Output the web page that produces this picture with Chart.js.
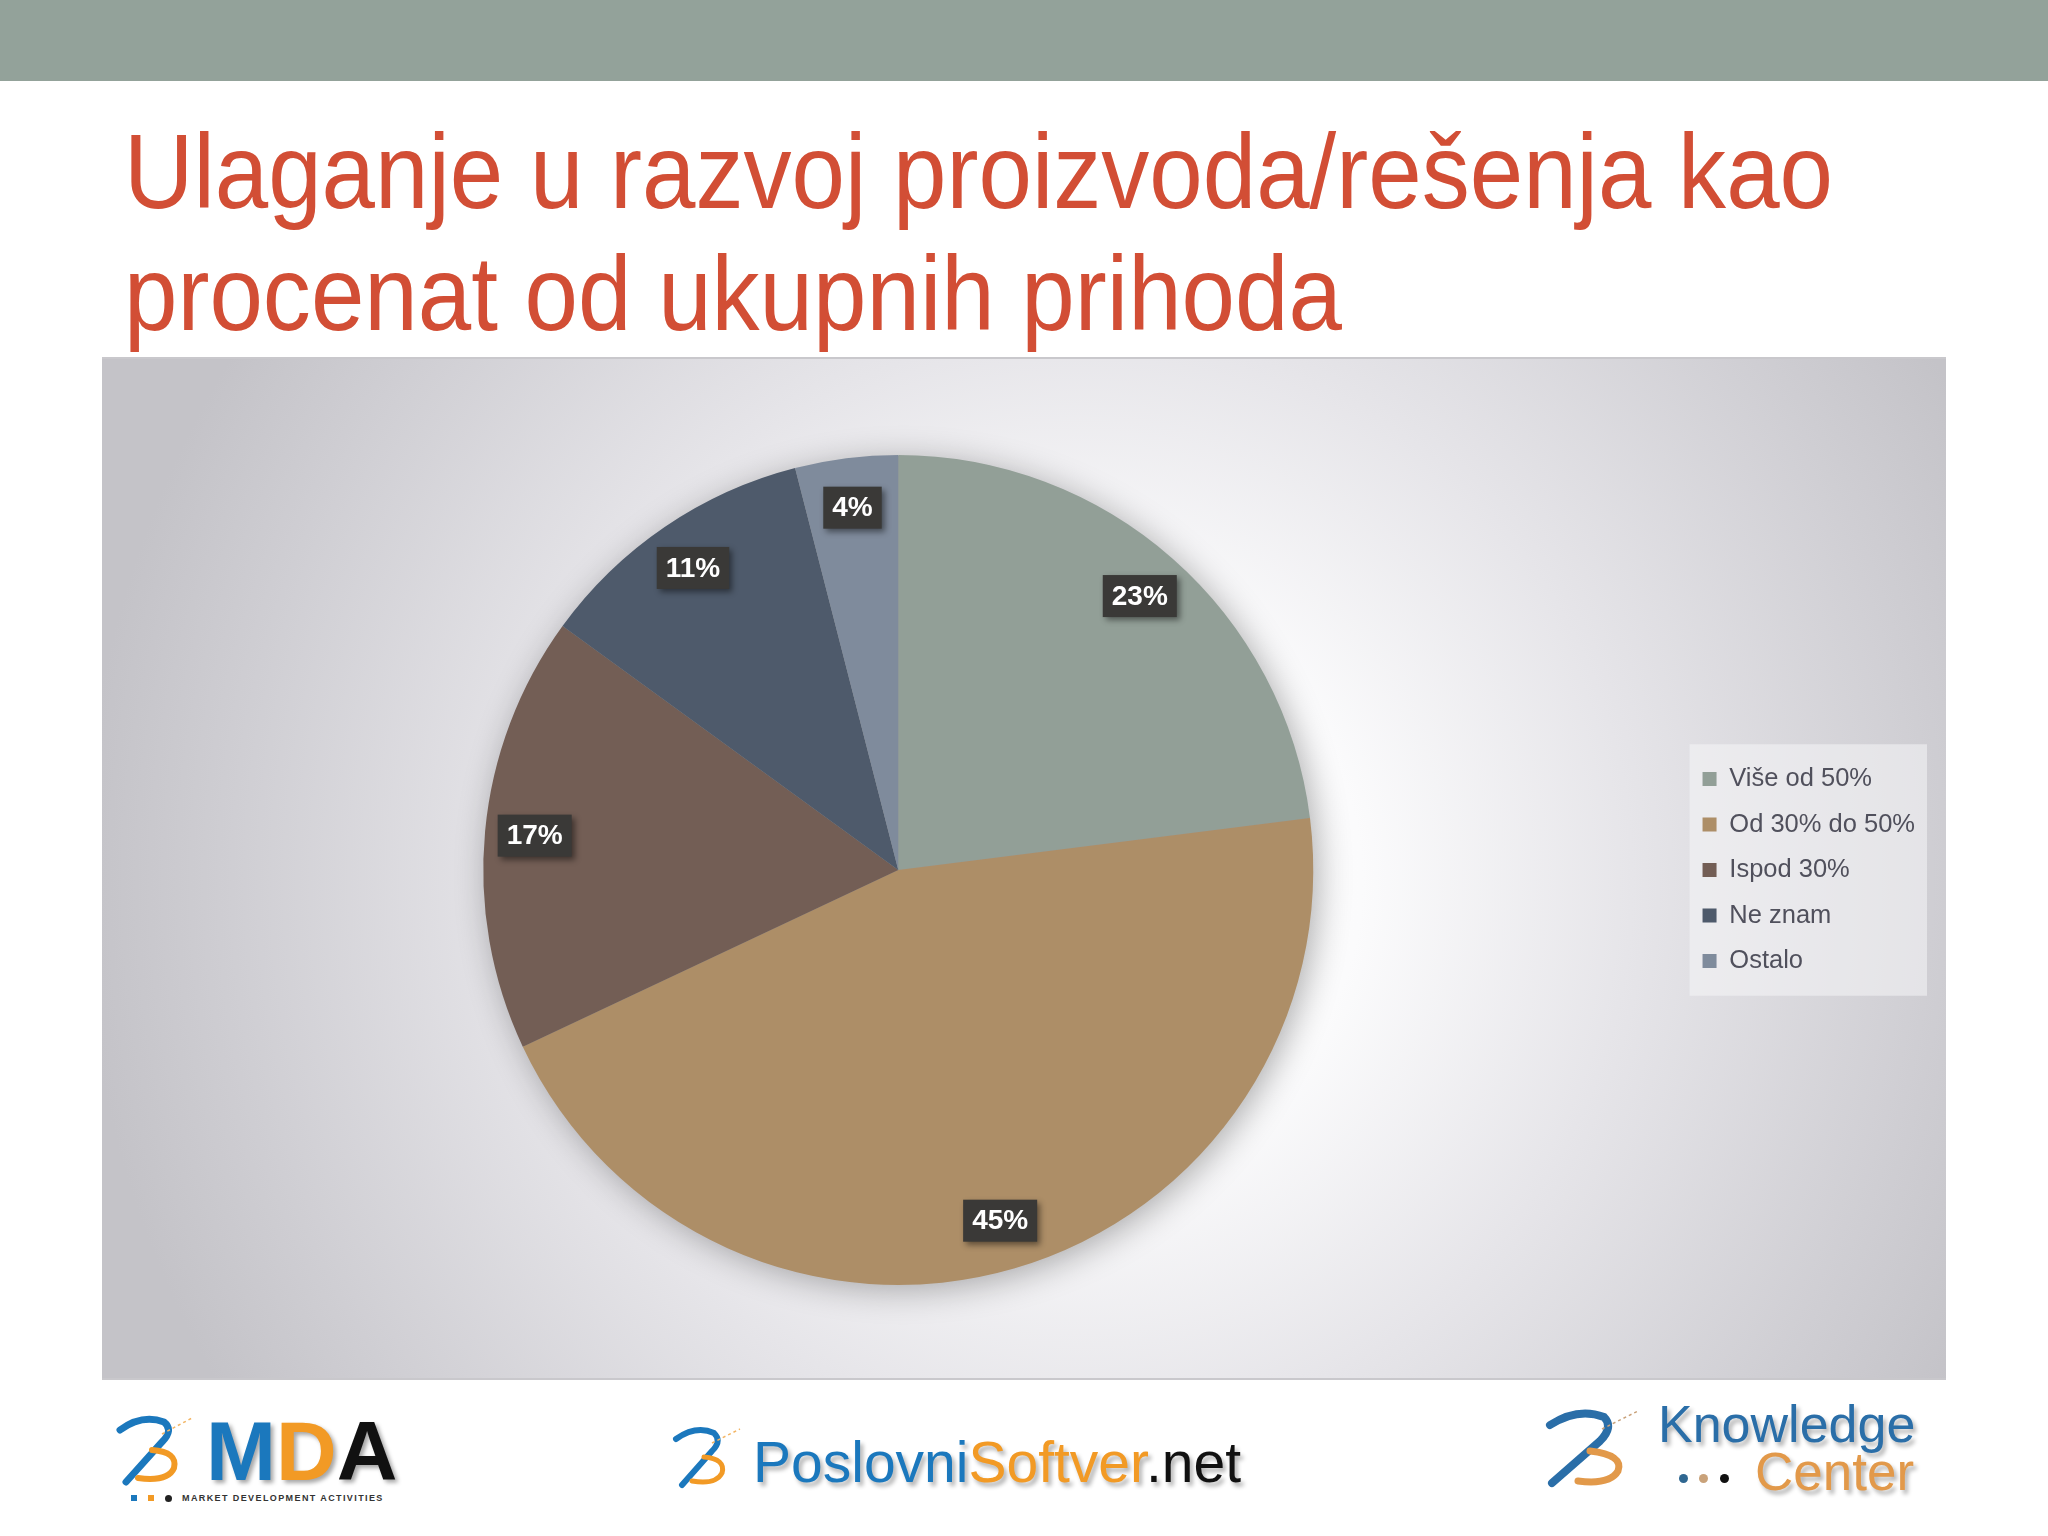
<!DOCTYPE html>
<html>
<head>
<meta charset="utf-8">
<title>Ulaganje u razvoj proizvoda/rešenja</title>
<script src="https://cdn.jsdelivr.net/npm/chart.js@4.4.0/dist/chart.umd.min.js"></script>
<style>
    html, body {
        margin: 0;
        padding: 0;
        width: 2048px;
        height: 1536px;
        background: #ffffff;
        overflow: hidden;
        font-family: 'Liberation Sans', Arial, sans-serif;
    }
    .top-bar {
        position: absolute;
        left: 0; top: 0;
        width: 2048px; height: 81px;
        background: #93a29a;
    }
    .title {
        position: absolute;
        left: 124px; top: 111px;
        font-size: 105px;
        line-height: 122px;
        color: #d24e35;
        white-space: nowrap;
        transform: scaleX(0.915);
        transform-origin: left top;
    }
    .chart-box {
        position: absolute;
        left: 102px; top: 357px;
        width: 1844px; height: 1023px;
        background: radial-gradient(circle 1000px at 980px 523px, #ffffff 0%, #fbfbfc 28%, #e6e5e9 55%, #cfced3 85%, #c4c3c8 100%);
        border-top: 2px solid #c9c8cc;
        border-bottom: 2px solid #c9c8cc;
        box-sizing: border-box;
    }
    .chart-box canvas {
        position: absolute;
        left: 0; top: -2px;
    }
    .logo-text {
        position: absolute;
        white-space: nowrap;
        line-height: 1;
    }
    .dot {
        position: absolute;
        border-radius: 50%;
    }
</style>
</head>
<body>
<div class="top-bar"></div>
<div class="title">Ulaganje u razvoj proizvoda/rešenja kao<br>procenat od ukupnih prihoda</div>

<div class="chart-box">
    <canvas id="pieChart" width="1844" height="1023" style="width:1844px;height:1023px"></canvas>
</div>

<!-- logos along the bottom -->
<svg style="position:absolute;left:112px;top:1412px" width="84" height="76" viewBox="0 0 84 76">
    <path d="M8 18 Q30 2 52 10 Q62 18 50 30 L14 70" fill="none" stroke="#1b78bd" stroke-width="7" stroke-linecap="round"/>
    <path d="M40 38 Q66 40 62 56 Q56 70 26 66" fill="none" stroke="#f29a25" stroke-width="6" stroke-linecap="round"/>
    <path d="M50 22 L80 6" fill="none" stroke="#f3b563" stroke-width="1.5" stroke-dasharray="3 3"/>
</svg>
<div class="logo-text" style="left:206px;top:1409px;font-size:84px;font-weight:bold;text-shadow:3px 3px 4px rgba(0,0,0,0.35)"><span style="color:#1b78bd">M</span><span style="color:#f29a25">D</span><span style="color:#111">A</span></div>
<div class="dot" style="left:131px;top:1495px;width:6px;height:6px;background:#1b78bd;border-radius:0"></div>
<div class="dot" style="left:148px;top:1495px;width:6px;height:6px;background:#f29a25;border-radius:0"></div>
<div class="dot" style="left:165px;top:1495px;width:7px;height:7px;background:#222"></div>
<div class="logo-text" style="left:182px;top:1494px;font-size:9px;font-weight:bold;letter-spacing:1.4px;color:#333">MARKET DEVELOPMENT ACTIVITIES</div>

<svg style="position:absolute;left:668px;top:1425px" width="80" height="66" viewBox="0 0 80 66">
    <path d="M8 14 Q28 0 46 8 Q54 16 44 26 L14 60" fill="none" stroke="#1b78bd" stroke-width="6" stroke-linecap="round"/>
    <path d="M36 32 Q58 34 54 48 Q48 60 24 56" fill="none" stroke="#f29a25" stroke-width="5" stroke-linecap="round"/>
    <path d="M44 18 L72 4" fill="none" stroke="#f3b563" stroke-width="1.5" stroke-dasharray="3 3"/>
</svg>
<div class="logo-text" style="left:753px;top:1434px;font-size:57px;text-shadow:3px 4px 4px rgba(0,0,0,0.3)"><span style="color:#1b78bd">Poslovni</span><span style="color:#f29a25">Softver</span><span style="color:#111">.net</span></div>

<svg style="position:absolute;left:1538px;top:1405px" width="106" height="84" viewBox="0 0 106 84">
    <path d="M12 20 Q40 2 66 12 Q76 22 62 36 L14 78" fill="none" stroke="#2a6ea8" stroke-width="8" stroke-linecap="round"/>
    <path d="M52 46 Q86 50 80 66 Q72 80 40 76" fill="none" stroke="#e2994a" stroke-width="7" stroke-linecap="round"/>
    <path d="M64 24 L100 6" fill="none" stroke="#c9a27a" stroke-width="1.5" stroke-dasharray="3 3"/>
</svg>
<div class="logo-text" style="left:1658px;top:1398px;font-size:52px;color:#2a6ea8;text-shadow:3px 4px 4px rgba(0,0,0,0.3)">Knowledge</div>
<div class="dot" style="left:1679px;top:1474px;width:9px;height:9px;background:#2f6791"></div>
<div class="dot" style="left:1699px;top:1474px;width:9px;height:9px;background:#c9a27a"></div>
<div class="dot" style="left:1720px;top:1474px;width:9px;height:9px;background:#111"></div>
<div class="logo-text" style="left:1755px;top:1445px;font-size:53px;color:#e2994a;text-shadow:3px 4px 4px rgba(0,0,0,0.3)">Center</div>

<script>
const categories = ['Više od 50%', 'Od 30% do 50%', 'Ispod 30%', 'Ne znam', 'Ostalo'];
const shares = [23, 45, 17, 11, 4];
const sliceColors = ['#929f97', '#ad8e67', '#735e55', '#4e5a6b', '#7f8b9c'];

// soft halo behind the whole pie, drawn once so slices don't shade each other
const pieShadow = {
    id: 'pieShadow',
    beforeDatasetsDraw(chart) {
        const arc = chart.getDatasetMeta(0).data[0];
        if (!arc) return;
        const {x, y, outerRadius} = arc.getProps(['x', 'y', 'outerRadius'], true);
        const ctx = chart.ctx;
        ctx.save();
        ctx.shadowColor = 'rgba(0, 0, 0, 0.32)';
        ctx.shadowBlur = 34;
        ctx.shadowOffsetX = 5;
        ctx.shadowOffsetY = 5;
        ctx.fillStyle = '#9a9a9a';
        ctx.beginPath();
        ctx.arc(x, y, outerRadius - 1, 0, Math.PI * 2);
        ctx.fill();
        ctx.restore();
    }
};

// lighter panel behind the legend entries
const legendPanel = {
    id: 'legendPanel',
    beforeDraw(chart) {
        const boxes = chart.legend && chart.legend.legendHitBoxes;
        if (!boxes || !boxes.length) return;
        const first = boxes[0];
        const last = boxes[boxes.length - 1];
        const maxW = Math.max(...boxes.map(b => b.width));
        const ctx = chart.ctx;
        ctx.save();
        ctx.fillStyle = 'rgba(246, 246, 248, 0.55)';
        ctx.fillRect(first.left - 13, first.top - 22, maxW + 25, last.top + last.height - first.top + 44);
        ctx.restore();
    }
};

// dark percentage tags near the rim of each slice
const percentTags = {
    id: 'percentTags',
    afterDatasetsDraw(chart) {
        const ctx = chart.ctx;
        const meta = chart.getDatasetMeta(0);
        meta.data.forEach((arc, i) => {
            const p = arc.getProps(['x', 'y', 'startAngle', 'endAngle', 'outerRadius'], true);
            const mid = (p.startAngle + p.endAngle) / 2;
            const r = p.outerRadius * 0.88;
            const cx = p.x + Math.cos(mid) * r;
            const cy = p.y + Math.sin(mid) * r;
            const text = shares[i] + '%';

            ctx.save();
            ctx.font = 'bold 28px "Liberation Sans", Arial, sans-serif';
            const w = ctx.measureText(text).width + 18;
            const h = 42;
            ctx.shadowColor = 'rgba(0, 0, 0, 0.45)';
            ctx.shadowBlur = 6;
            ctx.shadowOffsetX = 3;
            ctx.shadowOffsetY = 3;
            ctx.fillStyle = '#3a3937';
            ctx.fillRect(cx - w / 2, cy - h / 2, w, h);
            ctx.shadowColor = 'transparent';
            ctx.fillStyle = '#ffffff';
            ctx.textAlign = 'center';
            ctx.textBaseline = 'middle';
            ctx.fillText(text, cx, cy + 1);
            ctx.restore();
        });
    }
};

const ctx = document.getElementById('pieChart').getContext('2d');

new Chart(ctx, {
    type: 'pie',
    data: {
        labels: categories,
        datasets: [{
            data: shares,
            backgroundColor: sliceColors,
            borderWidth: 0
        }]
    },
    options: {
        responsive: false,
        animation: false,
        devicePixelRatio: 1,
        layout: {
            padding: { left: 12, right: 21, top: 98, bottom: 95 }
        },
        plugins: {
            tooltip: { enabled: false },
            legend: {
                position: 'right',
                align: 'center',
                labels: {
                    boxWidth: 14,
                    boxHeight: 14,
                    padding: 20,
                    color: '#50505c',
                    font: { family: "'Liberation Sans', Arial, sans-serif", size: 25.5 }
                }
            }
        }
    },
    plugins: [legendPanel, pieShadow, percentTags]
});
</script>
</body>
</html>
